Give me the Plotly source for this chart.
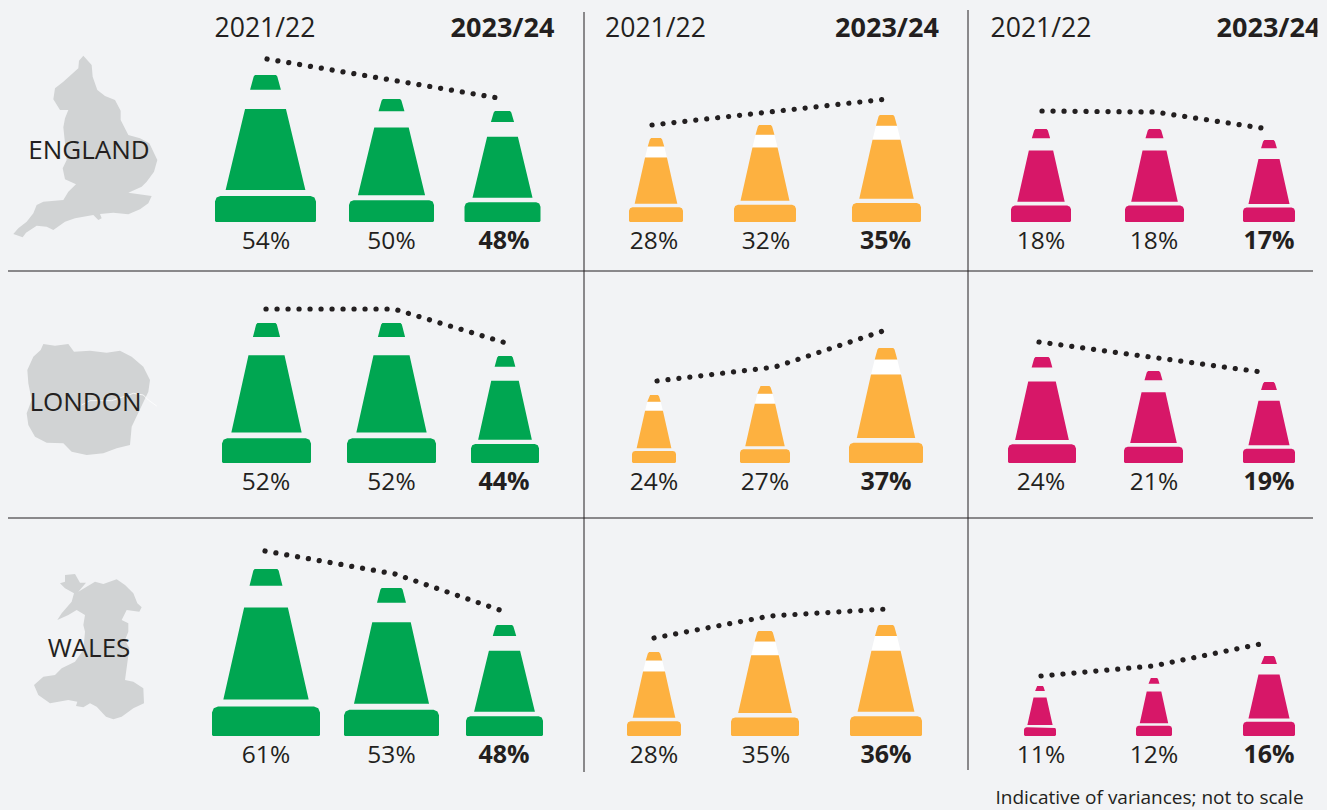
import plotly.graph_objects as go

# ---------- data ----------
regions = ["ENGLAND", "LONDON", "WALES"]
headers = ["2021/22", "2023/24"]
green_values = [[54, 50, 48], [52, 52, 44], [61, 53, 48]]
amber_values = [[28, 32, 35], [24, 27, 37], [28, 35, 36]]
pink_values = [[18, 18, 17], [24, 21, 19], [11, 12, 16]]
footnote = "Indicative of variances; not to scale"

# indicative cone sizes as drawn in the source ("not to scale")
green_heights = [[147, 123, 111], [140, 140, 107], [167, 148, 111]]
amber_heights = [[84, 97, 107], [68, 77, 115], [84, 105, 111]]
pink_heights = [[93, 93, 82], [106, 92, 81], [50, 58, 80]]
green_widths = [[101, 85, 76], [89, 89, 68], [108, 95, 77]]
amber_widths = [[54, 62, 69], [44, 50, 74], [54, 68, 72]]
pink_widths = [[60, 59, 52], [68, 59, 52], [32, 36, 52]]

# ---------- layout ----------
W, H = 1327, 810
BG = "#f2f3f5"
INK = "#231f20"
FONT = "Open Sans"
colours = ["#00a651", "#fdb140", "#d71768"]
gap_fill = [None, "#ffffff", None]
row_bottoms = [222, 463, 736]
label_ys = [243, 484, 757]
region_ys = [152.5, 404.5, 650.5]
region_xs = [89, 85.5, 89]
green_xs = [[265.5, 391.5, 502.5], [266.5, 391.5, 505], [266, 391.5, 504.5]]
amber_xs = [[656, 765, 886.5], [654, 765, 886], [654, 765, 886]]
pink_xs = [[1041, 1154.5, 1269], [1042, 1153.5, 1269], [1040, 1154, 1269]]
green_label_xs = [[266, 391.5, 504], [266, 391.5, 504], [266, 391.5, 504]]
amber_label_xs = [[654, 766, 885.5], [654, 765, 886], [654, 766, 886]]
pink_label_xs = [[1041, 1154, 1269], [1041, 1154, 1269], [1041, 1154, 1269]]
header_xs = [[265, 502.5], [655.5, 887], [1041, 1268.5]]
HEADER_CLIP_X = 1317.5

trend_green = [
    [(267, 59), (501, 98.5)],
    [(266, 309), (394, 309), (511, 344.5)],
    [(265, 551), (395, 574), (507, 612.5)],
]
trend_amber = [
    [(652, 125), (887, 99)],
    [(657, 381), (775, 367), (883, 331)],
    [(654, 638), (770, 616), (887, 609)],
]
trend_pink = [
    [(1042, 111), (1155, 112), (1265, 128.5)],
    [(1039, 342), (1261, 372)],
    [(1041, 676), (1153, 666), (1263, 643.5)],
]

england_map = [(250,47),(275,75),(278,110),(292,150),(315,168),(345,180),(362,212),(362,240),(385,285),(420,295),(448,310),(472,360),(462,395),(440,425),(425,440),(385,458),(455,468),(445,490),(420,508),(385,523),(340,518),(300,522),(305,535),(295,540),(280,525),(250,530),(225,535),(195,545),(160,570),(140,560),(110,557),(78,578),(68,592),(40,582),(55,565),(80,545),(100,520),(110,495),(130,485),(190,480),(205,455),(228,433),(195,418),(188,385),(200,360),(195,310),(190,262),(195,235),(205,210),(180,210),(160,178),(165,145),(190,125),(235,85),(237,62)]
london_map = [(130,42),(165,47),(205,42),(222,65),(270,62),(320,68),(360,62),(395,80),(430,110),(450,150),(445,185),(425,225),(395,290),(390,345),(350,355),(310,370),(260,375),(215,365),(190,340),(140,338),(105,320),(85,285),(80,250),(95,210),(85,160),(82,120),(100,80),(122,60)]
thames = [(245,225),(270,212),(335,212),(400,190),(430,195),(445,210),(470,228)]
wales_map = [(195,45),(225,42),(240,68),(258,68),(235,95),(285,65),(310,72),(350,58),(375,75),(400,100),(412,130),(425,142),(418,155),(380,150),(365,180),(385,190),(385,215),(375,240),(388,265),(380,325),(375,360),(400,365),(430,385),(432,430),(400,445),(365,470),(340,478),(318,470),(290,440),(270,430),(250,442),(228,438),(232,425),(205,420),(150,430),(115,405),(102,375),(130,350),(165,345),(185,325),(225,305),(250,270),(255,215),(250,195),(255,165),(230,150),(205,165),(172,180),(185,160),(215,125),(222,100),(195,85),(180,70),(195,65)]
map_offsets = [40, 330, 560]


def cone_parts(cx, bottom, h, width):
    """Return the (cap, body, base, band) outlines of one cone; y axis runs downward."""
    top = bottom - h
    hw = width / 2

    def y(t):
        return top + t * h

    c = min(1.6, h * 0.02)
    cap_t, cap_b = 0.24 * hw, 0.305 * hw
    cap = [(cx - cap_t + c, y(0)), (cx + cap_t - c, y(0)), (cx + cap_t - c * 0.2, y(0) + c),
           (cx + cap_b, y(0.10)), (cx - cap_b, y(0.10)), (cx - cap_t + c * 0.2, y(0) + c)]
    body = [(cx - 0.405 * hw, y(0.231)), (cx + 0.405 * hw, y(0.231)),
            (cx + 0.79 * hw, y(0.782)), (cx - 0.79 * hw, y(0.782))]
    band = [(cx - 0.305 * hw, y(0.10)), (cx + 0.305 * hw, y(0.10)),
            (cx + 0.405 * hw, y(0.231)), (cx - 0.405 * hw, y(0.231))]
    bt = bottom - 0.177 * h
    r = 0.03 * h + 1
    k = r * 0.29
    base = [(cx - hw, bt + r), (cx - hw + k, bt + k), (cx - hw + r, bt),
            (cx + hw - r, bt), (cx + hw - k, bt + k), (cx + hw, bt + r),
            (cx + hw, bottom - 1), (cx + hw - 1, bottom), (cx - hw + 1, bottom), (cx - hw, bottom - 1)]
    return cap, body, base, band


def flatten(polys):
    xs, ys = [], []
    for poly in polys:
        xs += [p[0] for p in poly] + [poly[0][0], None]
        ys += [p[1] for p in poly] + [poly[0][1], None]
    return xs, ys


fig = go.Figure()

# maps
for pts, off in zip([england_map, london_map, wales_map], map_offsets):
    fig.add_trace(go.Scatter(
        x=[p[0] / 3 for p in pts] + [pts[0][0] / 3],
        y=[p[1] / 3 + off for p in pts] + [pts[0][1] / 3 + off],
        mode="lines", fill="toself", fillcolor="#d1d3d4", line=dict(width=0),
        hoverinfo="skip", showlegend=False))
fig.add_trace(go.Scatter(
    x=[p[0] / 3 for p in thames], y=[p[1] / 3 + 330 for p in thames],
    mode="lines", line=dict(color="#ffffff", width=0.8), hoverinfo="skip", showlegend=False))

# divider lines
for xs_, ys_ in [([8, 1313], [271, 271]), ([8, 1313], [518, 518]),
                 ([584, 584], [12, 772]), ([968, 968], [10, 770])]:
    fig.add_trace(go.Scatter(x=xs_, y=ys_, mode="lines", line=dict(color=INK, width=1),
                             hoverinfo="skip", showlegend=False))

# cones, labels, trend lines
panels = [
    (green_values, green_heights, green_widths, green_xs, green_label_xs, trend_green),
    (amber_values, amber_heights, amber_widths, amber_xs, amber_label_xs, trend_amber),
    (pink_values, pink_heights, pink_widths, pink_xs, pink_label_xs, trend_pink),
]
for colour, band_colour, (vals, hts, wds, cxs, lxs, trends) in zip(colours, gap_fill, panels):
    for r in range(3):
        solids, bands = [], []
        for cx, h, wd in zip(cxs[r], hts[r], wds[r]):
            cap, body, base, band = cone_parts(cx, row_bottoms[r], h, wd)
            solids += [cap, body, base]
            bands.append(band)
        if band_colour:
            bx, by = flatten(bands)
            fig.add_trace(go.Scatter(x=bx, y=by, mode="lines", fill="toself", fillcolor=band_colour,
                                     line=dict(width=0), hoverinfo="skip", showlegend=False))
        xs, ys = flatten(solids)
        fig.add_trace(go.Scatter(x=xs, y=ys, mode="lines", fill="toself", fillcolor=colour,
                                 line=dict(width=0), hoverinfo="skip", showlegend=False))
        fig.add_trace(go.Scatter(
            x=lxs[r], y=[label_ys[r]] * 3, mode="text",
            text=[f"{vals[r][0]}%", f"{vals[r][1]}%", f"<b>{vals[r][2]}%</b>"],
            textposition="middle center",
            textfont=dict(family=FONT, size=[24.5, 24.5, 25], color=INK),
            hoverinfo="skip", showlegend=False, cliponaxis=False))
        fig.add_trace(go.Scatter(
            x=[p[0] for p in trends[r]], y=[p[1] for p in trends[r]], mode="lines",
            line=dict(color=INK, width=5.2, dash="5px,6px", shape="linear"),
            hoverinfo="skip", showlegend=False))

# headers
for (x0, x1) in header_xs:
    fig.add_trace(go.Scatter(
        x=[x0, x1], y=[30, 30], mode="text",
        text=[headers[0], f"<b>{headers[1]}</b>"], textposition="middle center",
        textfont=dict(family=FONT, size=[26.6, 27], color=INK),
        hoverinfo="skip", showlegend=False, cliponaxis=False))

# the last header is cut off in the source
fig.add_trace(go.Scatter(
    x=[HEADER_CLIP_X, W, W, HEADER_CLIP_X, HEADER_CLIP_X], y=[8, 8, 48, 48, 8],
    mode="lines", fill="toself", fillcolor=BG, line=dict(width=0),
    hoverinfo="skip", showlegend=False))

# region names
fig.add_trace(go.Scatter(
    x=region_xs, y=region_ys, mode="text", text=regions, textposition="middle center",
    textfont=dict(family=FONT, size=26, color=INK), hoverinfo="skip", showlegend=False))

# footnote
fig.add_trace(go.Scatter(
    x=[1149.5], y=[799], mode="text", text=[footnote], textposition="middle center",
    textfont=dict(family=FONT, size=19, color=INK), hoverinfo="skip", showlegend=False,
    cliponaxis=False))

fig.update_layout(
    width=W, height=H, margin=dict(l=0, r=0, t=0, b=0),
    paper_bgcolor=BG, plot_bgcolor=BG, showlegend=False, hovermode=False,
    xaxis=dict(range=[0, W], visible=False, fixedrange=True),
    yaxis=dict(range=[H, 0], visible=False, fixedrange=True),
)

post = """
document.body.style.margin = '0';
document.body.style.overflow = 'hidden';
document.body.style.background = '%s';
function roundDots() {
  var gd = document.getElementById('{plot_id}');
  gd.querySelectorAll('.scatterlayer .js-line').forEach(function (p) {
    if (p.style.strokeDasharray && p.style.strokeDasharray.indexOf('5') === 0) {
      p.style.strokeDasharray = '0.1px, 10.9px';
      p.style.strokeLinecap = 'round';
    }
  });
}
roundDots();
setTimeout(roundDots, 50);
""" % BG

fig.write_html("out.html", post_script=post, config={"displayModeBar": False})
